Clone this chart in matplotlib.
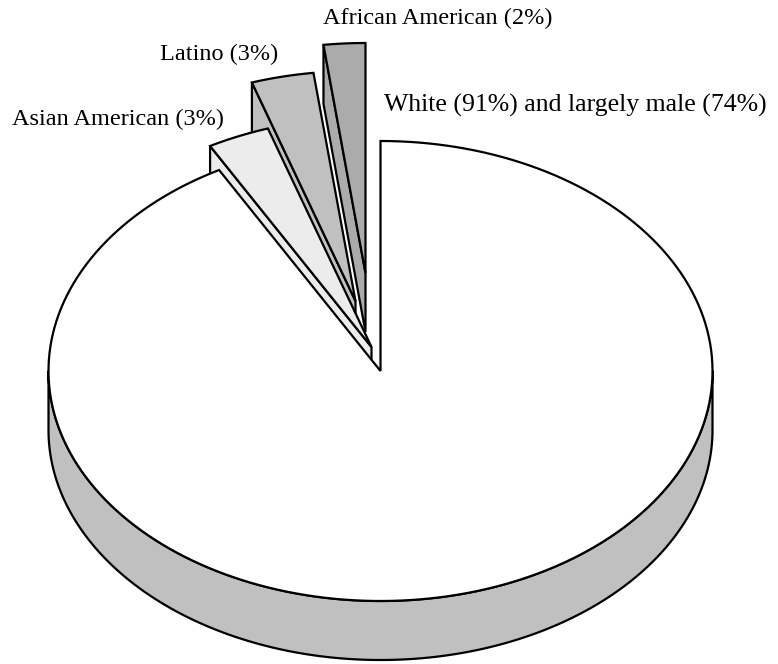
import numpy as np
import matplotlib.pyplot as plt
from matplotlib.patches import Polygon

# shares of the workforce, drawn clockwise from 12 o'clock
groups = ['White', 'Asian American', 'Latino', 'African American']
shares = [91, 3, 3, 2]
labels = ['White (91%) and largely male (74%)', 'Asian American (3%)',
          'Latino (3%)', 'African American (2%)']

colors = ['white', '#ececec', '#c0c0c0', '#ababab']
explode = [(0, 0), (-9, -24), (-25, -70), (-15, -98)]   # pixel offsets
label_pos = [(384, 105), (12, 119), (160, 54), (323, 18)]

# projected pie geometry (pixel units, y pointing down)
cx, cy = 380.5, 371
a, b = 332, 230
depth = 59
lw = 1.6


def rim(phi, dx=0, dy=0, drop=0):
    phi = np.radians(phi)
    return np.column_stack([cx + dx + a * np.sin(phi),
                            cy + dy - b * np.cos(phi) + drop])


fig = plt.figure(figsize=(7.78, 6.64), dpi=100)
ax = fig.add_axes([0, 0, 1, 1])
ax.set_xlim(0, 778)
ax.set_ylim(664, 0)
ax.axis('off')

angles = np.array(shares, dtype=float) / sum(shares) * 360
bounds = np.concatenate([[0], np.cumsum(angles)])

# exploded slices first (farthest back first), then the main slice
for i in [3, 2, 1, 0]:
    p0, p1 = bounds[i], bounds[i + 1]
    dx, dy = explode[i]
    arc = np.linspace(p0, p1, 200)
    apex = np.array([[cx + dx, cy + dy]])

    if i == 0:
        # front part of the cylinder wall
        front = np.linspace(90, 270, 400)
        wall = np.vstack([rim(front), rim(front[::-1], drop=depth)])
        ax.add_patch(Polygon(wall, closed=True, fc='#c0c0c0', ec='black',
                             lw=lw, joinstyle='round'))
    else:
        # radial face on the left edge of the slice
        edge = rim([p0], dx, dy)
        face = np.vstack([apex, edge, edge + [0, depth], apex + [0, depth]])
        ax.add_patch(Polygon(face, closed=True, fc=colors[i], ec='black',
                             lw=lw, joinstyle='miter'))

    top = np.vstack([apex, rim(arc, dx, dy)])
    ax.add_patch(Polygon(top, closed=True, fc=colors[i], ec='black',
                         lw=lw, joinstyle='miter'))

for text, (x, y) in zip(labels, label_pos):
    fs = 18.5 if x > 370 and y > 60 else 17.5
    ax.text(x, y, text, ha='left', va='center', fontsize=fs,
            family='Liberation Serif', color='black')

plt.savefig('out.png', dpi=100)
